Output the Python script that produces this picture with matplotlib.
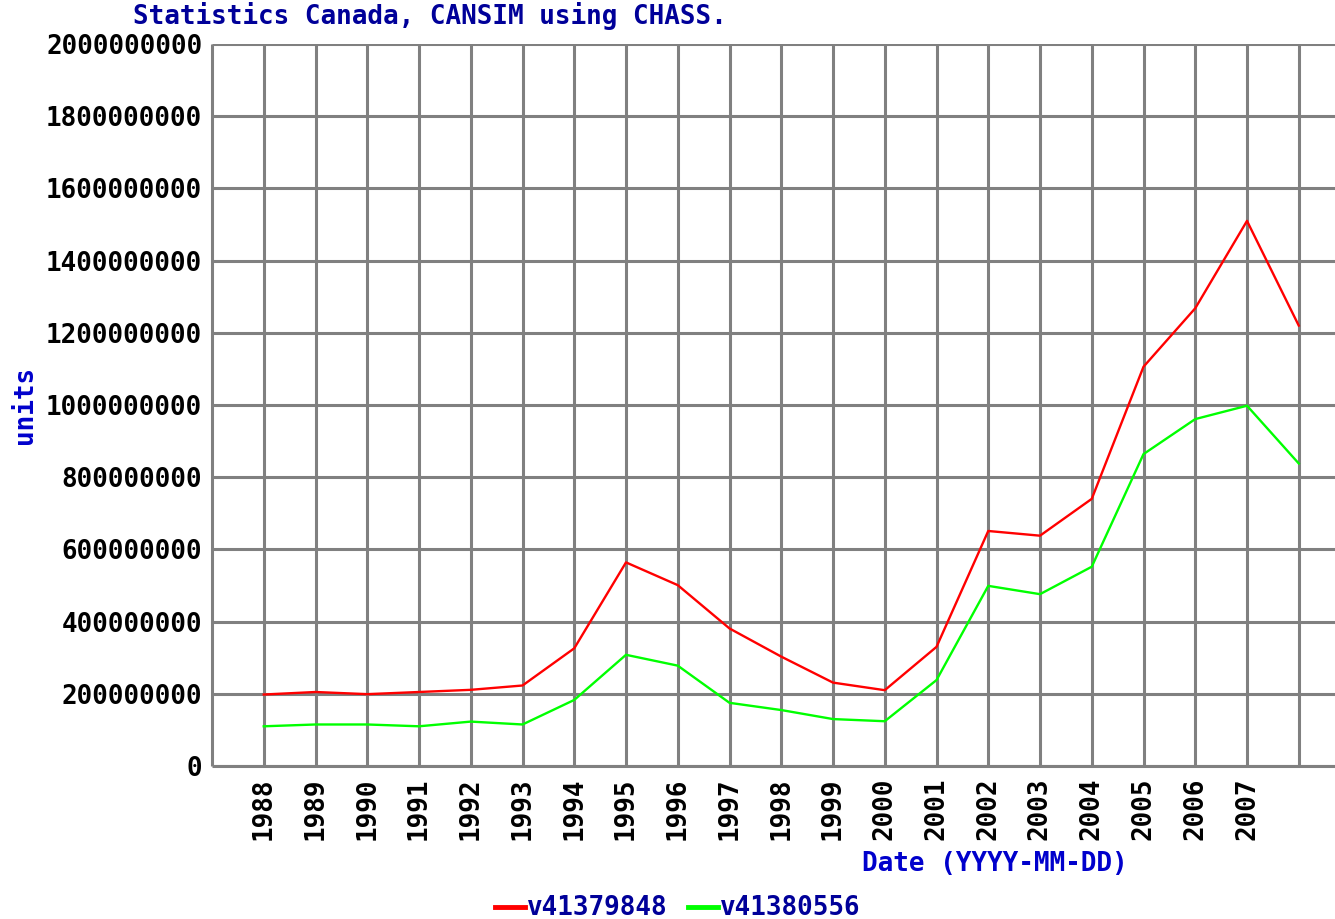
import numpy as np
import matplotlib
matplotlib.use("Agg")
import matplotlib.pyplot as plt

# data (units)
years = [1988, 1989, 1990, 1991, 1992, 1993, 1994, 1995, 1996, 1997, 1998,
         1999, 2000, 2001, 2002, 2003, 2004, 2005, 2006, 2007, 2008]
red_vals = [198e6, 205e6, 199e6, 205e6, 211e6, 223e6, 326e6, 564e6, 501e6, 381e6, 303e6,
            231e6, 210e6, 330e6, 651e6, 638e6, 740e6, 1106e6, 1268e6, 1510e6, 1220e6]
green_vals = [110e6, 115e6, 115e6, 110e6, 123e6, 115e6, 183e6, 308e6, 278e6, 175e6, 155e6,
              130e6, 124e6, 238e6, 499e6, 476e6, 552e6, 864e6, 961e6, 998e6, 838e6]
tick_years = years[:-1]
series_names = ["v41379848", "v41380556"]

W, H = 1335, 919
fig = plt.figure(figsize=(W / 100, H / 100), dpi=100)
ax = fig.add_axes([212 / W, 1 - 766 / H, (1335 - 212) / W, (766 - 44) / H])

grid_col = "#808080"
mono = "DejaVu Sans Mono"
fs = 18.7

ax.plot(years, red_vals, color="#ff0000", lw=1.7, zorder=3)
ax.plot(years, green_vals, color="#00ff00", lw=1.7, zorder=3)

ax.set_xlim(1987, 1987 + (1335 - 212) / 51.75)
ax.set_ylim(0, 2e9)
yt = np.arange(0, 2.01e9, 2e8)
ax.set_yticks(yt)
ax.set_yticklabels([f"{int(v)}" for v in yt], fontfamily=mono, fontweight="bold", fontsize=fs)
ax.set_xticks(years)
ax.set_xticklabels([str(y) for y in tick_years] + [""], rotation=90,
                   fontfamily=mono, fontweight="bold", fontsize=fs)
ax.tick_params(axis="x", length=0, width=0, pad=8)
ax.tick_params(axis="y", length=0, width=0, pad=7)

ax.grid(True, color=grid_col, lw=2.2, solid_capstyle="butt")
ax.set_axisbelow(True)
for s in ["top", "right"]:
    ax.spines[s].set_visible(False)
for s in ["left", "bottom"]:
    ax.spines[s].set_color(grid_col)
    ax.spines[s].set_linewidth(2.2)
    ax.spines[s].set_capstyle("butt")

# texts
fig.text(133 / W, 1 - 16 / H, "Statistics Canada, CANSIM using CHASS.", color="#000099",
         fontfamily=mono, fontweight="bold", fontsize=fs, va="center", ha="left")
fig.text(25 / W, 1 - 405 / H, "units", color="#0000cc", rotation=90,
         fontfamily=mono, fontweight="bold", fontsize=fs, va="center", ha="center")
fig.text(862 / W, 1 - 864 / H, "Date (YYYY-MM-DD)", color="#0000cc",
         fontfamily=mono, fontweight="bold", fontsize=fs, va="center", ha="left")

# legend drawn by hand at bottom
for x0, col, name in [(495, "#ff0000", series_names[0]), (688, "#00ff00", series_names[1])]:
    fig.add_artist(plt.Line2D([x0 / W, (x0 + 30) / W], [1 - 907 / H, 1 - 907 / H],
                              color=col, lw=3.5, transform=fig.transFigure))
    fig.text((x0 + 32) / W, 1 - 908 / H, name, color="#000099",
             fontfamily=mono, fontweight="bold", fontsize=fs, va="center", ha="left")

fig.savefig("out.png", dpi=100, facecolor="white")
